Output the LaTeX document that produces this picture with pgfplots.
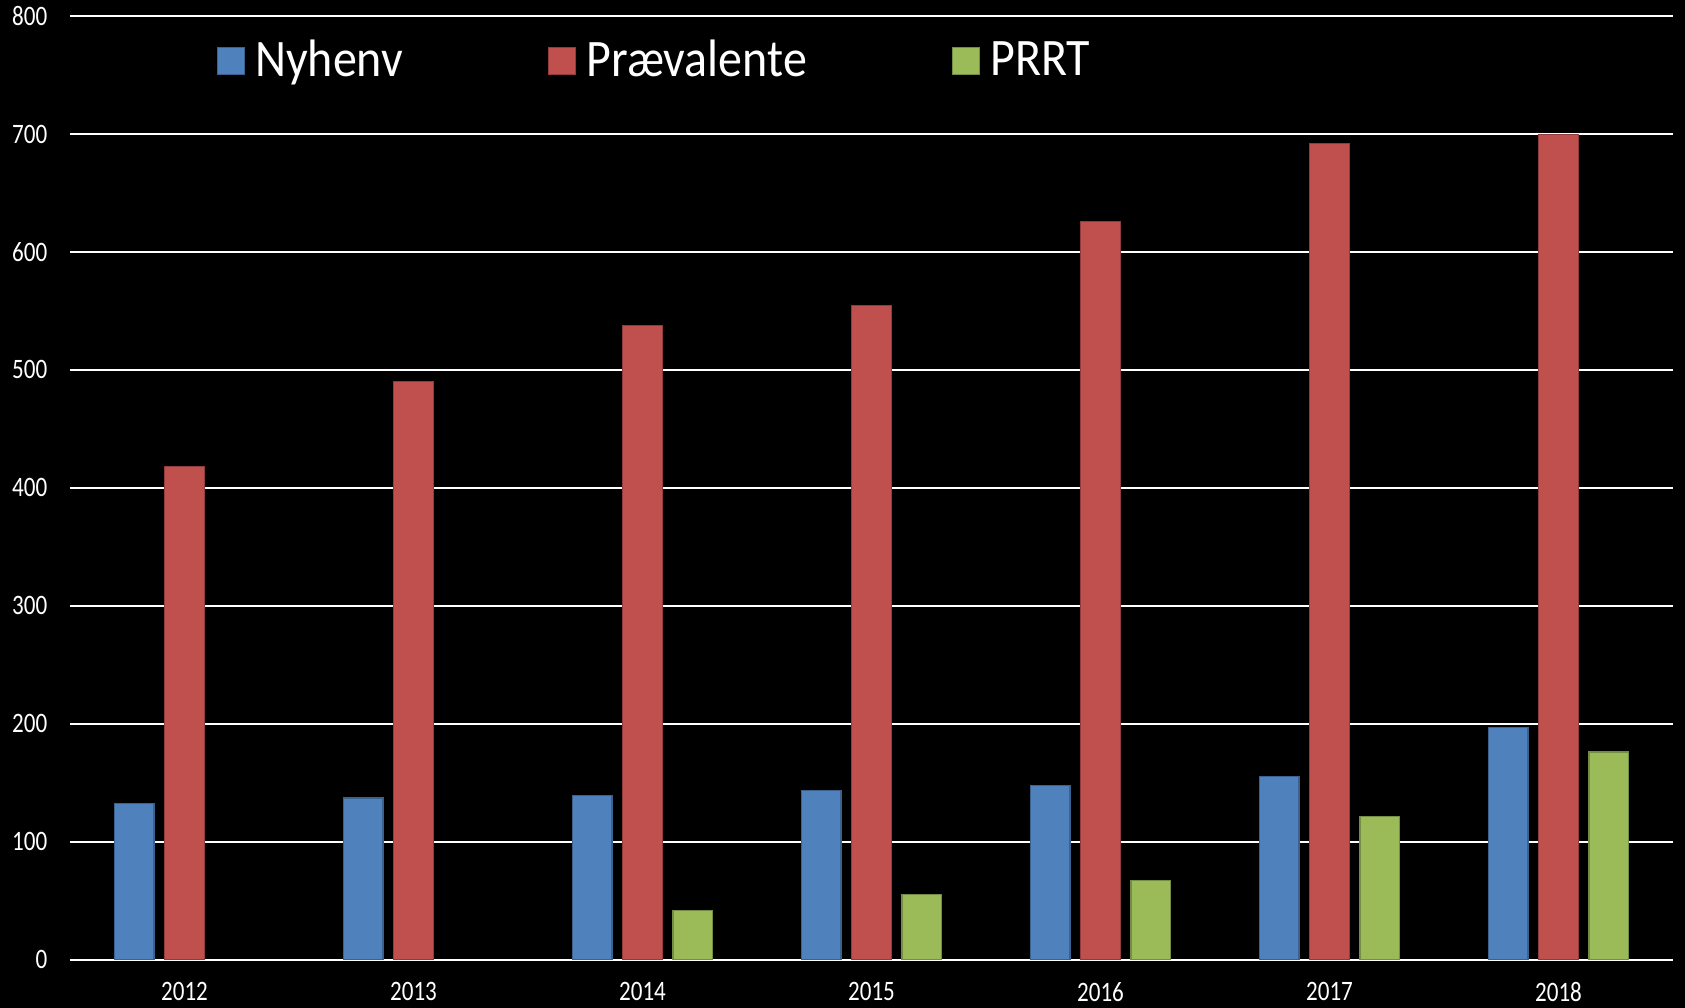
\documentclass[border=0pt]{standalone}
\usepackage{fontspec}
\setmainfont{Carlito}
\newfontfamily\tickfont[FakeStretch=0.82]{Carlito}
\newfontfamily\legfont[FakeStretch=0.91]{Carlito}
\usepackage{pgfplots}
\pgfplotsset{compat=1.18}
\pgfdeclarelayer{background}
\pgfsetlayers{background,main}
\definecolor{cblue}{HTML}{4F81BD}
\definecolor{cred}{HTML}{C0504D}
\definecolor{cgreen}{HTML}{9BBB59}
\begin{document}
\begin{tikzpicture}
\begin{axis}[
  width=160.3mm, height=94.35mm, scale only axis,
  xmin=-0.5, xmax=6.5, ymin=0, ymax=800,
  ybar=1.06mm, bar width=3.98mm,
  xtick={0,...,6}, xticklabels={2012,2013,2014,2015,2016,2017,2018},
  ytick={0,100,...,800},
  ymajorgrids, grid style={white, line width=0.2mm},
  axis line style={draw=none},
  major tick length=0pt,
  /pgf/number format/assume math mode=true,
  tick label style={font=\fontsize{8}{9}\tickfont, text=white},
  yticklabel style={anchor=east, inner sep=0pt, xshift=-2.2mm},
  xticklabel style={anchor=north, inner sep=0pt, yshift=-2.2mm},
  legend columns=3,
  legend style={at={(0.091,0.9527)}, anchor=west, draw=none, fill=none,
    text=white, font=\fontsize{15}{18}\legfont, inner sep=0pt,
    nodes={inner sep=0.65mm},
    /tikz/every odd column/.append style={column sep=0.4mm},
    /tikz/every even column/.append style={column sep=13.85mm}},
  legend cell align=left,
  legend image code/.code={\fill[#1] (0mm,-1.35mm) rectangle (2.7mm,1.35mm);},
]
\addplot[fill=cblue, draw=cblue!75!black, line width=0.3pt] coordinates {
  (0,132) (1,137) (2,139) (3,143) (4,148) (5,155) (6,197)};
\addlegendentry{Nyhenv}
\addplot[fill=cred, draw=cred!75!black, line width=0.3pt] coordinates {
  (0,418) (1,490) (2,538) (3,555) (4,626) (5,692) (6,700)};
\addlegendentry{Prævalente}
\addplot[fill=cgreen, draw=cgreen!75!black, line width=0.3pt] coordinates {
  (2,42) (3,55) (4,67) (5,121) (6,176)};
\addlegendentry{PRRT}
\end{axis}
\begin{pgfonlayer}{background}
\fill[black] ([xshift=-7mm,yshift=-4.84mm]current axis.south west) rectangle ([xshift=1.2mm,yshift=1.61mm]current axis.north east);
\end{pgfonlayer}
\pgfresetboundingbox
\path ([xshift=-7mm,yshift=-4.84mm]current axis.south west) rectangle ([xshift=1.2mm,yshift=1.61mm]current axis.north east);
\end{tikzpicture}
\end{document}
